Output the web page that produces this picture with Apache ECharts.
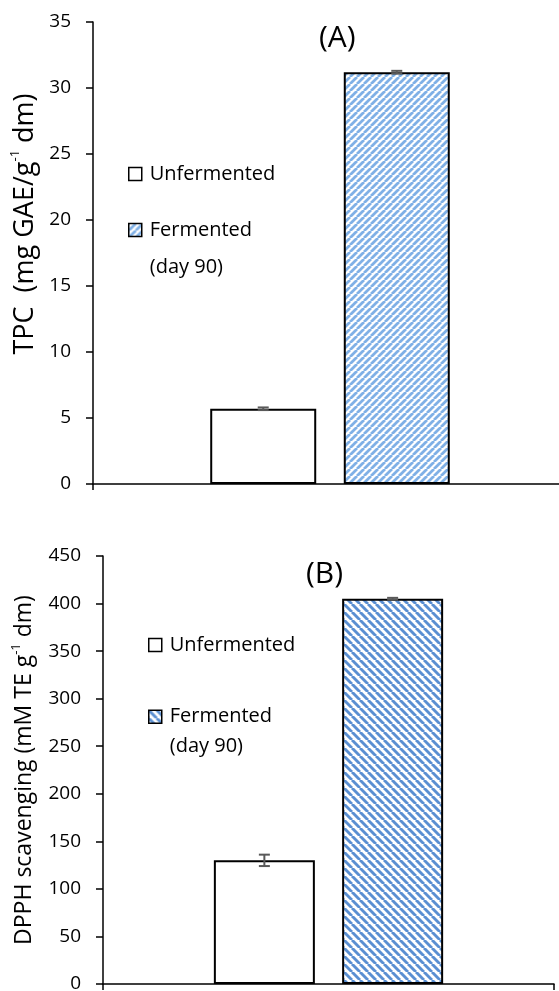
<!DOCTYPE html>
<html>
<head>
<meta charset="utf-8">
<script src="https://cdn.jsdelivr.net/npm/echarts@6/dist/echarts.min.js"></script>
<style>
  html, body { margin: 0; padding: 0; background: #ffffff; }
  #chart-a { width: 559px; height: 500px; }
  #chart-b { width: 559px; height: 491px; }
</style>
</head>
<body>
<div id="chart-a"></div>
<div id="chart-b"></div>
<script>
// values
const categories = [""];
const seriesNames = ["Unfermented", "Fermented (day 90)"];
const tpcValues = [5.7, 31.2];
const tpcErrors = [0.1, 0.1];
const dpphValues = [130, 405];
const dpphErrors = [6, 1];
const tpcAxis = { min: 0, max: 35, interval: 5 };
const dpphAxis = { min: 0, max: 450, interval: 50 };

const FONT = '"Open Sans", sans-serif';

// diagonal hatch tile for the fermented bars
function makeHatch(color, size, dir, ratio) {
  const c = document.createElement("canvas");
  c.width = size;
  c.height = size;
  const ctx = c.getContext("2d");
  ctx.fillStyle = "#ffffff";
  ctx.fillRect(0, 0, size, size);
  ctx.strokeStyle = color;
  ctx.lineWidth = size * ratio;
  ctx.beginPath();
  for (let k = -1; k <= 1; k++) {
    if (dir === "up") {
      ctx.moveTo(k * size, size);
      ctx.lineTo(k * size + size, 0);
    } else {
      ctx.moveTo(k * size, 0);
      ctx.lineTo(k * size + size, size);
    }
  }
  ctx.stroke();
  return c;
}

function buildOption(cfg) {
  const hatch = {
    image: makeHatch(cfg.hatchColor, cfg.hatchSize, cfg.hatchDir, cfg.hatchRatio),
    repeat: "repeat"
  };

  const bars = seriesNames.map((name, i) => ({
    name,
    type: "bar",
    data: [cfg.values[i]],
    barWidth: cfg.barWidth,
    barGap: cfg.barGap,
    itemStyle: {
      color: i === 0 ? "#ffffff" : hatch,
      borderColor: "#000000",
      borderWidth: 2
    },
    emphasis: { disabled: true }
  }));

  const errorData = cfg.values.map((v, i) => [0, v, cfg.errors[i], i]);

  const errorSeries = {
    type: "custom",
    data: errorData,
    encode: { x: 0, y: 1 },
    z: 10,
    silent: true,
    renderItem(params, api) {
      const idx = api.value(3);
      let offset;
      if (api.barLayout) {
        const layout = api.barLayout({ count: 2, barWidth: cfg.barWidth, barGap: cfg.barGap });
        offset = layout[idx].offsetCenter;
      } else {
        const gapPx = cfg.barWidth * parseFloat(cfg.barGap) / 100;
        offset = (idx === 0 ? -1 : 1) * (cfg.barWidth + gapPx) / 2;
      }
      const center = api.coord([api.value(0), api.value(1)]);
      const x = center[0] + offset;
      const yHi = api.coord([api.value(0), api.value(1) + api.value(2)])[1];
      const yLo = api.coord([api.value(0), api.value(1) - api.value(2)])[1];
      const cap = 5.5;
      const style = { stroke: "#595959", lineWidth: 2 };
      return {
        type: "group",
        children: [
          { type: "line", shape: { x1: x, y1: yHi, x2: x, y2: yLo }, style },
          { type: "line", shape: { x1: x - cap, y1: yHi, x2: x + cap, y2: yHi }, style },
          { type: "line", shape: { x1: x - cap, y1: yLo, x2: x + cap, y2: yLo }, style }
        ]
      };
    }
  };

  return {
    animation: false,
    textStyle: { fontFamily: FONT },
    title: {
      text: cfg.title,
      left: cfg.titlePos[0],
      top: cfg.titlePos[1],
      padding: 0,
      textStyle: { fontFamily: FONT, fontSize: 30, fontWeight: "normal", color: "#000000" }
    },
    legend: {
      orient: "vertical",
      left: cfg.legendPos[0],
      top: cfg.legendPos[1],
      padding: 0,
      itemWidth: 13,
      itemHeight: 13,
      itemGap: cfg.legendGap,
      icon: "rect",
      selectedMode: false,
      itemStyle: { borderColor: "#000000", borderWidth: 1.5 },
      textStyle: { fontFamily: FONT, fontSize: 20, color: "#000000", padding: [0, 0, 0, 3] },
      data: [
        { name: seriesNames[0], textStyle: { lineHeight: 20 } },
        { name: seriesNames[1], textStyle: { lineHeight: cfg.legendLine } }
      ],
      formatter: name => (name === seriesNames[1] ? " \nFermented\n(day 90)" : name)
    },
    grid: Object.assign({ outerBoundsMode: "none", containLabel: false }, cfg.grid),
    xAxis: {
      type: "category",
      data: categories,
      axisLine: { lineStyle: { color: "#000000", width: 1.5 } },
      axisTick: { show: true, length: 6, lineStyle: { color: "#000000", width: 1.5 } },
      axisLabel: { show: false },
      splitLine: { show: false }
    },
    yAxis: {
      type: "value",
      min: cfg.axis.min,
      max: cfg.axis.max,
      interval: cfg.axis.interval,
      axisLine: { show: true, lineStyle: { color: "#000000", width: 1.5 } },
      axisTick: { show: true, length: 7, lineStyle: { color: "#000000", width: 1.5 } },
      axisLabel: { color: "#000000", fontFamily: FONT, fontSize: 19, margin: 22 },
      splitLine: { show: false },
      name: cfg.yName,
      nameLocation: "middle",
      nameRotate: 90,
      nameGap: cfg.nameGap,
      nameTextStyle: {
        color: "#000000",
        padding: cfg.namePadding,
        rich: {
          t: { fontFamily: FONT, fontSize: cfg.nameSize, color: "#000000", lineHeight: cfg.nameSize + 5 },
          s: { fontFamily: FONT, fontSize: 13, color: "#000000", verticalAlign: "top", lineHeight: cfg.nameSize + 5 }
        }
      }
    },
    series: [...bars, errorSeries]
  };
}

const chartA = echarts.init(document.getElementById("chart-a"));
chartA.setOption(buildOption({
  values: tpcValues,
  errors: tpcErrors,
  axis: tpcAxis,
  grid: { left: 93, width: 474, top: 22, bottom: 16 },
  barWidth: 106,
  barGap: "26%",
  hatchColor: "#7fb0e6",
  hatchSize: 7,
  hatchRatio: 0.4,
  hatchDir: "up",
  title: "(A)",
  titlePos: [319, 23],
  legendPos: [128, 164],
  legendGap: -9.5,
  legendLine: 37,
  yName: "{t|TPC  (mg GAE/g}{s|-1}{t| dm)}",
  nameSize: 27,
  nameGap: 52,
  namePadding: [0, 0, 0, 58]
}));

const chartB = echarts.init(document.getElementById("chart-b"));
chartB.setOption(buildOption({
  values: dpphValues,
  errors: dpphErrors,
  axis: dpphAxis,
  grid: { left: 103, right: 5, top: 56, bottom: 7 },
  barWidth: 101,
  barGap: "27%",
  hatchColor: "#5a8fd2",
  hatchSize: 8,
  hatchRatio: 0.36,
  hatchDir: "down",
  title: "(B)",
  titlePos: [306, 59],
  legendPos: [148, 135],
  legendGap: 16.7,
  legendLine: 30,
  yName: "{t|DPPH scavenging (mM TE g}{s|-1}{t| dm)}",
  nameSize: 23,
  nameGap: 65,
  namePadding: [0, 0, 0, 0]
}));
</script>
</body>
</html>
